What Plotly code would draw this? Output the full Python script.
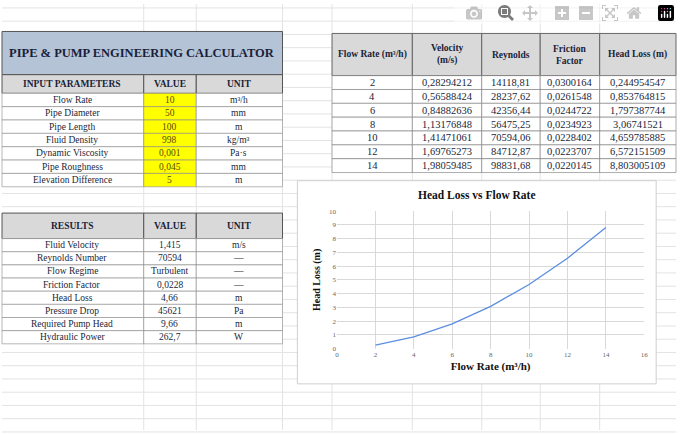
import plotly.graph_objects as go

W, H = 680, 434
SERIF = "Liberation Serif"
INK = "#1a1f3a"

flow = [2, 4, 6, 8, 10, 12, 14]
velocity = ["0,28294212", "0,56588424", "0,84882636", "1,13176848", "1,41471061", "1,69765273", "1,98059485"]
reynolds = ["14118,81", "28237,62", "42356,44", "56475,25", "70594,06", "84712,87", "98831,68"]
friction = ["0,0300164", "0,0261548", "0,0244722", "0,0234923", "0,0228402", "0,0223707", "0,0220145"]
head_loss = [0.244954547, 0.853764815, 1.797387744, 3.06741521, 4.659785885, 6.572151509, 8.803005109]
head_loss_txt = ["0,244954547", "0,853764815", "1,797387744", "3,06741521", "4,659785885", "6,572151509", "8,803005109"]

in_labels = ["Flow Rate", "Pipe Diameter", "Pipe Length", "Fluid Density", "Dynamic Viscosity", "Pipe Roughness", "Elevation Difference"]
in_values = ["10", "50", "100", "998", "0,001", "0,045", "5"]
in_units = ["m³/h", "mm", "m", "kg/m³", "Pa·s", "mm", "m"]

res_labels = ["Fluid Velocity", "Reynolds Number", "Flow Regime", "Friction Factor", "Head Loss", "Pressure Drop", "Required Pump Head", "Hydraulic Power"]
res_values = ["1,415", "70594", "Turbulent", "0,0228", "4,66", "45621", "9,66", "262,7"]
res_units = ["m/s", "—", "—", "—", "m", "Pa", "m", "W"]

shapes, ann = [], []
def px(x): return x / W
def py(y): return 1 - y / H

def rect(x0, y0, x1, y1, fill="white", line="#555", lw=1):
    shapes.append(dict(type="rect", xref="paper", yref="paper", x0=px(x0), x1=px(x1),
                       y0=py(y1), y1=py(y0), fillcolor=fill, line=dict(color=line, width=lw), layer="below"))

def text(x, y, s, size=10, bold=False, color=INK):
    if bold: s = "<b>" + s + "</b>"
    ann.append(dict(x=px(x), y=py(y), xref="paper", yref="paper", text=s, showarrow=False,
                    font=dict(family=SERIF, size=size, color=color), xanchor="center", yanchor="middle"))

# faint spreadsheet gridlines
for gx in [143, 196, 283, 333, 414, 484, 543, 603]:
    shapes.append(dict(type="line", xref="paper", yref="paper", x0=px(gx), x1=px(gx), y0=0, y1=1,
                       line=dict(color="#e3e3e3", width=1), layer="below"))
for i in range(33):
    gy = 4 + i * 13.5
    shapes.append(dict(type="line", xref="paper", yref="paper", x0=0, x1=1, y0=py(gy), y1=py(gy),
                       line=dict(color="#e3e3e3", width=1), layer="below"))

# title block
rect(0, 28, 283, 72, fill="#b4c3d6", line="#555")
text(141, 50, "PIPE & PUMP ENGINEERING CALCULATOR", 12.5, True)

# input table
rect(0, 72, 143, 91, "#d9d9d9"); rect(143, 72, 196, 91, "#d9d9d9"); rect(196, 72, 283, 91, "#d9d9d9")
text(71, 81.5, "INPUT PARAMETERS", 9.5, True); text(169, 81.5, "VALUE", 9.5, True); text(239, 81.5, "UNIT", 9.5, True)
rh = 13.6
for i, (l, v, u) in enumerate(zip(in_labels, in_values, in_units)):
    y0 = 91 + i * rh
    rect(0, y0, 143, y0 + rh, "white", "#888", 0.6)
    rect(143, y0, 196, y0 + rh, "#ffff00", "#888", 0.6)
    rect(196, y0, 283, y0 + rh, "white", "#888", 0.6)
    text(71, y0 + rh / 2, l, 9.5); text(169, y0 + rh / 2, v, 9.5, color="#5a4a00"); text(239, y0 + rh / 2, u, 9.5)

# results table
rect(0, 213, 143, 239, "#d9d9d9"); rect(143, 213, 196, 239, "#d9d9d9"); rect(196, 213, 283, 239, "#d9d9d9")
text(71, 226, "RESULTS", 9.5, True); text(169, 226, "VALUE", 9.5, True); text(239, 226, "UNIT", 9.5, True)
rh2 = 13.4
for i, (l, v, u) in enumerate(zip(res_labels, res_values, res_units)):
    y0 = 239 + i * rh2
    rect(0, y0, 143, y0 + rh2, "white", "#888", 0.6)
    rect(143, y0, 196, y0 + rh2, "white", "#888", 0.6)
    rect(196, y0, 283, y0 + rh2, "white", "#888", 0.6)
    text(71, y0 + rh2 / 2, l, 9.5); text(169, y0 + rh2 / 2, v, 9.5); text(239, y0 + rh2 / 2, u, 9.5)

# right table
rc = [333, 414, 484, 543, 603, 680]
heads = ["Flow Rate (m³/h)", "Velocity<br>(m/s)", "Reynolds", "Friction<br>Factor", "Head Loss (m)"]
for j, hd in enumerate(heads):
    rect(rc[j], 30, rc[j + 1], 73, "#d9d9d9", "#666")
    text((rc[j] + rc[j + 1]) / 2, 51.5, hd, 9.5, True)
rh3 = 14.1
for i in range(len(flow)):
    y0 = 73 + i * rh3
    vals = [str(flow[i]), velocity[i], reynolds[i], friction[i], head_loss_txt[i]]
    for j, v in enumerate(vals):
        rect(rc[j], y0, rc[j + 1], y0 + rh3, "white", "#777", 0.6)
        text((rc[j] + rc[j + 1]) / 2, y0 + rh3 / 2, v, 10.5)

# chart box
rect(298, 180, 660, 387, "white", "#cfcfcf")
text(479, 195, "Head Loss vs Flow Rate", 11.5, True, "#111")

fig = go.Figure(go.Scatter(x=flow, y=head_loss, mode="lines", line=dict(color="#5b8ee0", width=1.3),
                           hoverinfo="skip"))
fig.update_layout(
    width=W, height=H, margin=dict(l=0, r=0, t=0, b=0), paper_bgcolor="white",
    plot_bgcolor="rgba(0,0,0,0)", showlegend=False, shapes=shapes, annotations=ann,
    xaxis=dict(domain=[px(338), px(648)], range=[0, 16], dtick=2, showgrid=True, gridcolor="#d9d9d9",
               zeroline=False, showline=False, tickfont=dict(family=SERIF, size=7, color="#666"),
               title=dict(text="<b>Flow Rate (m³/h)</b>", font=dict(family=SERIF, size=11, color="#111"), standoff=4)),
    yaxis=dict(domain=[py(351), py(211)], range=[0, 10], dtick=1, showgrid=True, gridcolor="#d9d9d9",
               zeroline=False, showline=False, tickfont=dict(family=SERIF, size=7, color="#666"),
               title=dict(text="<b>Head Loss (m)</b>", font=dict(family=SERIF, size=10, color="#111"), standoff=6)),
)
fig.write_html("out.html", post_script="document.body.style.margin='0';document.body.style.padding='0';")
